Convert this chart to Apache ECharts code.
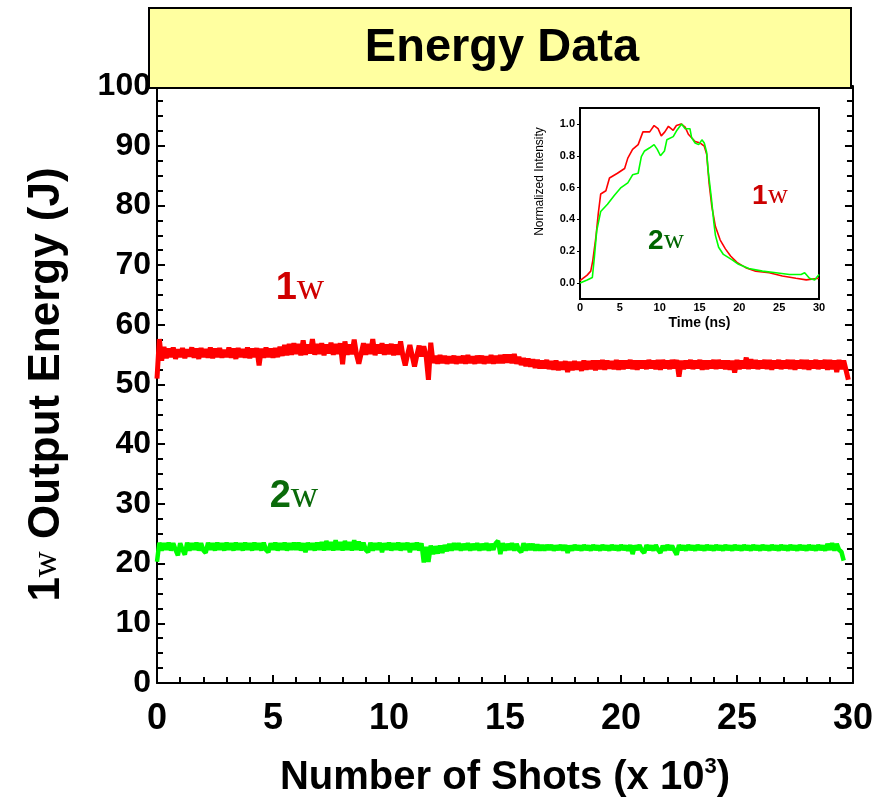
<!DOCTYPE html>
<html>
<head>
<meta charset="utf-8">
<script src="https://cdn.jsdelivr.net/npm/echarts@6/dist/echarts.min.js"></script>
<style>
html, body { margin: 0; padding: 0; background: #fff; }
#chart { width: 876px; height: 803px; }
</style>
</head>
<body>
<div id="chart"></div>
<script>
// energy per shot, one reading every 100 shots (axis is in 10^3 shots)
var shotStep = 0.1;
var energy1w = [
    51.0, 57.6, 54.0, 56.3, 54.4, 56.0, 54.6, 56.2, 54.3, 55.9,
    54.6, 56.1, 54.4, 55.9, 54.7, 56.2, 54.5, 56.0, 54.3, 56.1,
    54.6, 55.9, 54.5, 56.2, 54.4, 56.0, 54.6, 56.1, 54.5, 55.8,
    54.6, 56.2, 54.5, 56.0, 54.3, 56.1, 54.6, 55.9, 54.5, 56.2,
    54.4, 56.0, 54.6, 56.1, 53.2, 56.0, 54.5, 56.2, 54.6, 56.0,
    54.5, 56.1, 54.6, 56.3, 54.8, 56.6, 54.9, 56.8, 55.0, 56.9,
    55.1, 56.8, 54.9, 57.4, 55.0, 56.7, 55.2, 57.6, 55.0, 56.8,
    55.1, 56.9, 54.9, 56.7, 55.2, 57.0, 55.0, 56.8, 55.1, 56.9,
    53.4, 57.2, 55.0, 56.7, 55.1, 57.5, 55.0, 53.5, 55.2, 56.9,
    55.0, 56.8, 55.1, 57.6, 54.9, 56.7, 55.2, 56.9, 55.0, 56.7,
    55.1, 56.8, 54.9, 56.7, 55.0, 57.2, 54.8, 53.2, 55.0, 56.6,
    54.8, 53.0, 54.9, 56.5, 54.7, 56.4, 54.8, 50.8, 57.0, 53.6,
    54.8, 53.5, 54.9, 53.6, 54.8, 53.5, 54.7, 53.6, 54.8, 53.5,
    54.7, 53.6, 54.8, 53.5, 54.9, 53.6, 54.7, 53.5, 54.8, 53.6,
    54.8, 53.5, 54.7, 53.6, 54.9, 53.5, 54.8, 53.6, 54.9, 53.6,
    55.0, 53.7, 55.0, 53.6, 55.1, 53.5, 54.6, 53.3, 54.4, 53.1,
    54.3, 53.0, 54.2, 52.8, 54.1, 52.7, 54.0, 52.7, 54.1, 52.6,
    53.9, 52.5, 54.0, 52.4, 53.8, 52.5, 53.9, 52.1, 53.8, 52.4,
    53.9, 52.5, 53.8, 52.3, 54.0, 52.5, 53.9, 52.6, 54.0, 52.4,
    54.0, 52.6, 54.1, 52.5, 54.0, 52.7, 53.9, 52.6, 54.1, 52.5,
    54.0, 52.6, 54.0, 52.7, 54.1, 52.6, 54.0, 52.5, 54.0, 52.7,
    54.0, 52.6, 54.1, 52.7, 54.0, 52.6, 54.1, 52.5, 54.1, 52.7,
    54.0, 52.6, 54.1, 52.7, 54.1, 51.3, 54.0, 52.6, 54.0, 52.7,
    54.1, 52.6, 54.0, 52.7, 54.1, 52.5, 54.0, 52.6, 54.0, 52.7,
    54.1, 52.6, 54.1, 52.7, 54.0, 52.6, 54.0, 52.5, 54.0, 52.0,
    54.1, 52.6, 54.0, 52.7, 54.5, 52.6, 54.2, 52.7, 54.1, 52.6,
    54.0, 52.7, 54.1, 52.6, 54.1, 52.5, 54.0, 52.7, 54.1, 52.6,
    54.0, 52.7, 54.1, 52.6, 54.1, 52.5, 54.0, 52.7, 54.1, 52.6,
    54.1, 52.5, 54.0, 52.7, 54.1, 52.6, 54.0, 52.7, 54.1, 52.5,
    54.1, 52.6, 54.0, 52.1, 54.1, 52.6, 54.0, 52.4, 50.8
];
var energy2w = [
    20.3, 23.5, 22.2, 23.4, 22.3, 23.5, 22.2, 23.4, 22.3, 21.4,
    23.4, 22.3, 21.5, 23.5, 22.2, 23.4, 22.3, 23.5, 22.2, 23.4,
    22.2, 21.8, 23.5, 22.3, 23.4, 22.2, 23.5, 22.3, 23.4, 22.2,
    23.5, 22.3, 23.4, 22.2, 23.5, 22.3, 23.4, 22.2, 23.5, 22.3,
    23.4, 22.2, 23.5, 22.3, 23.4, 22.2, 23.5, 22.3, 21.9, 23.4,
    22.3, 23.5, 22.2, 23.4, 22.3, 23.5, 22.2, 23.4, 22.3, 23.5,
    22.3, 23.5, 22.2, 23.4, 21.9, 23.5, 22.3, 23.4, 22.2, 23.5,
    22.3, 23.6, 22.2, 23.8, 22.3, 23.6, 22.2, 23.9, 22.3, 23.6,
    22.2, 23.8, 22.3, 23.6, 22.2, 23.9, 22.3, 23.7, 22.2, 23.5,
    22.3, 21.9, 23.5, 22.2, 23.4, 22.3, 23.5, 21.9, 23.4, 22.3,
    23.5, 22.2, 23.4, 22.3, 23.5, 22.2, 23.4, 22.3, 23.5, 21.9,
    23.4, 22.3, 23.5, 22.2, 23.4, 20.2, 22.8, 20.3, 23.0, 21.6,
    22.9, 21.7, 23.0, 21.8, 23.1, 22.1, 23.3, 22.2, 23.4, 22.3,
    23.4, 22.2, 23.3, 22.3, 23.4, 22.2, 23.3, 22.3, 23.4, 22.2,
    23.3, 22.3, 23.4, 22.2, 23.3, 22.3, 23.4, 23.8, 21.6, 23.4,
    22.2, 23.3, 22.3, 23.4, 22.2, 23.3, 22.3, 21.9, 23.4, 22.2,
    23.3, 22.3, 23.3, 22.2, 23.2, 22.2, 23.1, 22.2, 23.1, 22.3,
    23.1, 22.2, 23.0, 22.3, 23.1, 22.2, 23.1, 21.8, 23.0, 22.2,
    23.1, 22.3, 23.0, 22.2, 23.1, 22.3, 23.0, 22.2, 23.1, 22.3,
    23.0, 22.2, 23.1, 22.3, 23.0, 22.2, 23.1, 22.3, 23.0, 22.2,
    23.1, 22.3, 23.0, 22.2, 23.1, 21.6, 23.0, 22.3, 23.1, 22.2,
    21.8, 23.1, 22.3, 23.0, 22.2, 23.1, 22.3, 21.8, 23.0, 22.2,
    23.1, 22.3, 23.0, 22.2, 21.5, 23.1, 22.3, 23.0, 22.2, 23.1,
    22.3, 23.0, 22.2, 23.1, 22.3, 23.0, 22.2, 23.1, 22.3, 23.0,
    22.2, 23.1, 22.3, 23.0, 22.2, 23.1, 22.3, 23.0, 22.2, 23.1,
    22.3, 23.0, 22.2, 23.1, 22.3, 23.0, 22.2, 23.1, 22.3, 23.0,
    22.2, 23.1, 22.3, 23.0, 22.2, 23.1, 22.3, 23.0, 22.2, 23.1,
    22.3, 23.0, 22.2, 23.1, 22.3, 23.0, 22.2, 23.1, 22.3, 23.0,
    22.2, 23.1, 22.3, 23.0, 22.2, 23.1, 22.3, 23.0, 22.2, 23.3,
    22.3, 23.4, 22.2, 23.3, 22.3, 22.0, 20.5
];

// inset: normalized pulse shapes (ns)
var pulseTime1w = [0, 0.9, 1.35, 1.6, 2.0, 2.3, 2.6, 3.25, 3.7, 4.7, 5.6, 6.0, 6.6, 7.3, 7.9, 8.75, 9.3, 9.8, 10.2, 10.65, 11.1, 11.7, 12.1, 12.7, 13.2, 13.6, 14.45, 15.1, 15.6, 15.9, 16.2, 16.55, 17.0, 17.6, 18.25, 18.9, 19.7, 20.8, 22.05, 23.75, 25.4, 27.1, 28.4, 30];
var pulse1w = [0.015, 0.05, 0.075, 0.14, 0.29, 0.44, 0.56, 0.58, 0.66, 0.69, 0.72, 0.785, 0.84, 0.87, 0.95, 0.95, 0.99, 0.97, 0.925, 0.95, 0.985, 0.96, 0.99, 1.0, 0.98, 0.935, 0.89, 0.88, 0.86, 0.81, 0.63, 0.48, 0.355, 0.27, 0.215, 0.17, 0.13, 0.097, 0.075, 0.065, 0.045, 0.03, 0.02, 0.03];
var pulseTime2w = [0, 0.9, 1.55, 1.8, 2.1, 2.6, 3.45, 4.3, 5.15, 6.0, 6.6, 7.3, 7.7, 8.1, 8.75, 9.3, 9.7, 10.1, 10.6, 10.9, 11.7, 12.1, 12.75, 13.2, 13.8, 14.0, 14.45, 14.9, 15.3, 15.6, 15.9, 16.1, 16.5, 16.8, 17.0, 17.4, 18.0, 19.1, 19.9, 21.2, 22.9, 24.6, 26.3, 27.75, 28.2, 28.8, 29.45, 30];
var pulse2w = [0.0, 0.02, 0.035, 0.16, 0.33, 0.45, 0.495, 0.55, 0.6, 0.63, 0.68, 0.69, 0.795, 0.83, 0.85, 0.87, 0.84, 0.8, 0.83, 0.9, 0.92, 0.955, 1.0, 0.97, 0.97, 0.915, 0.88, 0.87, 0.9, 0.88, 0.82, 0.7, 0.53, 0.38, 0.3, 0.225, 0.18, 0.146, 0.118, 0.092, 0.075, 0.065, 0.054, 0.054, 0.065, 0.03, 0.02, 0.054];
var insetTicks = [0, 0.2, 0.4, 0.6, 0.8, 1.0];

var SANS = '"Liberation Sans", Arial, Helvetica, sans-serif';
var SERIF = '"Liberation Serif", "Times New Roman", serif';

function shotPairs(vals) {
    var out = [];
    for (var i = 0; i < vals.length; i++) {
        out.push([+(i * shotStep).toFixed(1), vals[i]]);
    }
    return out;
}
function zip(xs, ys) {
    return xs.map(function (x, i) { return [x, ys[i]]; });
}

// "1w" / "2w" labels: bold digit + serif w
function omegaLabel(x, y, digit, color, size) {
    return {
        type: 'text', x: x, y: y, z: 50,
        style: {
            text: '{d|' + digit + '}{w|w}',
            align: 'center', verticalAlign: 'middle',
            rich: {
                d: { fontFamily: SANS, fontWeight: 'bold', fontSize: size, fill: color, color: color },
                w: { fontFamily: SERIF, fontWeight: 'normal', fontSize: size, fill: color, color: color }
            }
        }
    };
}

var chart = echarts.init(document.getElementById('chart'));
var axisBlack = { color: '#000', width: 2 };

var opt = {
    animation: false,
    backgroundColor: '#fff',
    grid: [
        { left: 157, right: 23, top: 86, bottom: 120 },
        { left: 580, top: 108, width: 239, height: 191, show: true, backgroundColor: '#fff', borderColor: '#000', borderWidth: 2, z: 10 }
    ],
    xAxis: [{
        type: 'value', gridIndex: 0, min: 0, max: 30, interval: 5,
        axisLine: { lineStyle: axisBlack },
        axisTick: { inside: true, length: 8, lineStyle: axisBlack },
        minorTick: { show: true, splitNumber: 5, length: 6, lineStyle: axisBlack },
        splitLine: { show: false },
        axisLabel: { color: '#000', fontFamily: SANS, fontWeight: 'bold', fontSize: 36, margin: 18 },
        name: '{t|Number of Shots (x 10}{s|3}{t|)}',
        nameLocation: 'middle', nameGap: 73,
        nameTextStyle: {
            rich: {
                t: { fontFamily: SANS, fontWeight: 'bold', fontSize: 40, color: '#000' },
                s: { fontFamily: SANS, fontWeight: 'bold', fontSize: 22, color: '#000', padding: [0, 0, 22, 0] }
            }
        }
    }, {
        type: 'value', gridIndex: 1, min: 0, max: 30, interval: 5,
        axisLine: { lineStyle: axisBlack },
        axisTick: { length: 3, lineStyle: { color: '#000', width: 1 } },
        splitLine: { show: false },
        axisLabel: { color: '#000', fontFamily: SANS, fontWeight: 'bold', fontSize: 11, margin: 3 },
        name: 'Time (ns)', nameLocation: 'middle', nameGap: 17,
        nameTextStyle: { color: '#000', fontFamily: SANS, fontWeight: 'bold', fontSize: 14 }
    }],
    yAxis: [{
        type: 'value', gridIndex: 0, min: 0, max: 100, interval: 10,
        axisLine: { lineStyle: axisBlack },
        axisTick: { inside: true, length: 8, lineStyle: axisBlack },
        minorTick: { show: true, splitNumber: 4, length: 6, lineStyle: axisBlack },
        splitLine: { show: false },
        axisLabel: { color: '#000', fontFamily: SANS, fontWeight: 'bold', fontSize: 32, margin: 6 },
        name: '{d|1}{w|w}{t| Output Energy (J)}',
        nameLocation: 'middle', nameGap: 88,
        nameTextStyle: {
            rich: {
                d: { fontFamily: SANS, fontWeight: 'bold', fontSize: 44, color: '#000' },
                w: { fontFamily: SERIF, fontWeight: 'normal', fontSize: 36, color: '#000' },
                t: { fontFamily: SANS, fontWeight: 'bold', fontSize: 44, color: '#000' }
            }
        }
    }, {
        // mirror axis on the right edge, ticks only
        type: 'value', gridIndex: 0, position: 'right', min: 0, max: 100, interval: 10,
        axisLine: { show: true, lineStyle: axisBlack },
        axisTick: { show: true, inside: true, length: 8, lineStyle: axisBlack },
        minorTick: { show: true, splitNumber: 4, length: 6, lineStyle: axisBlack },
        splitLine: { show: false },
        axisLabel: { show: false }
    }, {
        type: 'value', gridIndex: 1, min: -0.1, max: 1.1,
        axisLine: { lineStyle: axisBlack },
        axisTick: { length: 3, lineStyle: { color: '#000', width: 1 }, customValues: insetTicks },
        splitLine: { show: false },
        axisLabel: {
            color: '#000', fontFamily: SANS, fontWeight: 'bold', fontSize: 11, margin: 5,
            customValues: insetTicks,
            formatter: function (v) { return v.toFixed(1); }
        },
        name: 'Normalized Intensity', nameLocation: 'middle', nameGap: 34,
        nameTextStyle: { color: '#000', fontFamily: SANS, fontSize: 12, padding: [0, 0, 0, 44] }
    }],
    graphic: [
        {
            type: 'rect', z: 100,
            shape: { x: 149, y: 8, width: 702, height: 80 },
            style: { fill: '#ffffa0', stroke: '#000', lineWidth: 2 }
        },
        {
            type: 'text', x: 502, y: 48, z: 101,
            style: {
                text: 'Energy Data', align: 'center', verticalAlign: 'middle',
                font: 'bold 47px ' + SANS, fill: '#000'
            }
        },
        omegaLabel(300, 289, '1', '#d00000', 38),
        omegaLabel(294, 497, '2', '#0a6a0a', 38),
        omegaLabel(770, 196, '1', '#cc0000', 28),
        omegaLabel(666, 241, '2', '#006600', 28)
    ],
    series: [{
        name: '1w', type: 'line', xAxisIndex: 0, yAxisIndex: 0,
        data: shotPairs(energy1w), showSymbol: false, symbol: 'none',
        lineStyle: { color: '#ff0000', width: 5 }
    }, {
        name: '2w', type: 'line', xAxisIndex: 0, yAxisIndex: 0,
        data: shotPairs(energy2w), showSymbol: false, symbol: 'none',
        lineStyle: { color: '#00ff00', width: 4.5 }
    }, {
        name: '1w pulse', type: 'line', xAxisIndex: 1, yAxisIndex: 2, z: 12,
        data: zip(pulseTime1w, pulse1w), symbol: 'none',
        lineStyle: { color: '#ff0000', width: 1.6 }
    }, {
        name: '2w pulse', type: 'line', xAxisIndex: 1, yAxisIndex: 2, z: 13,
        data: zip(pulseTime2w, pulse2w), symbol: 'none',
        lineStyle: { color: '#00ff00', width: 1.6 }
    }]
};
chart.setOption(opt);
window.addEventListener('resize', function () {
    chart.resize();
});
</script>
</body>
</html>
